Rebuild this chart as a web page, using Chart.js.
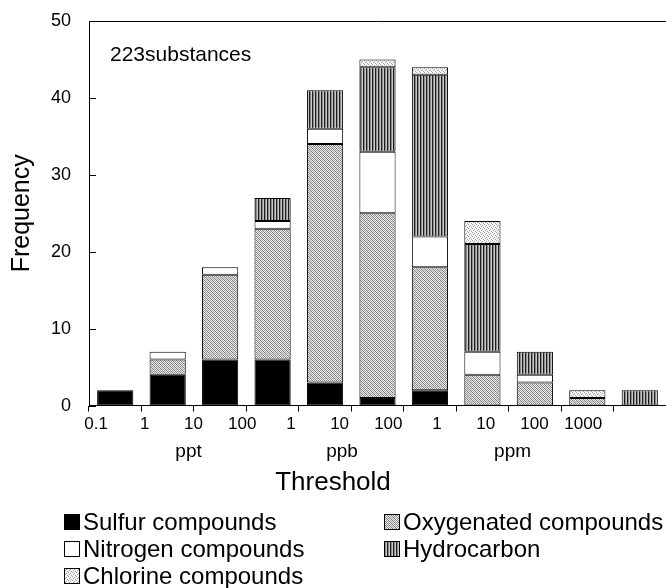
<!DOCTYPE html>
<html>
<head>
<meta charset="utf-8">
<script src="https://cdn.jsdelivr.net/npm/chart.js@4.4.0/dist/chart.umd.min.js"></script>
<style>
  html, body { margin: 0; padding: 0; background: #fff; }
</style>
</head>
<body>
<canvas id="chart" width="666" height="588"></canvas>
<script>
// threshold classes (one bar each) and the labels on the axis
const categories = ['0.1-1 ppt', '1-10 ppt', '10-100 ppt', '100 ppt-1 ppb', '1-10 ppb', '10-100 ppb',
  '100 ppb-1 ppm', '1-10 ppm', '10-100 ppm', '100-1000 ppm', '>1000 ppm'];
const thresholdLabels = ['0.1', '1', '10', '100', '1', '10', '100', '1', '10', '100', '1000'];
const unitLabels = ['ppt', 'ppb', 'ppm'];

// number of substances per class
const sulfur      = [2, 4, 6, 6, 3, 1, 2, 0, 0, 0, 0];
const oxygenated  = [0, 2, 11, 17, 31, 24, 16, 4, 3, 1, 0];
const nitrogen    = [0, 1, 1, 1, 2, 8, 4, 3, 1, 0, 0];
const hydrocarbon = [0, 0, 0, 3, 5, 11, 21, 14, 3, 0, 2];
const chlorine    = [0, 0, 0, 0, 0, 1, 1, 3, 0, 1, 0];

const FONT = '"Liberation Sans", Arial, sans-serif';

// small tiles used as fill patterns
function makePattern(w, h, draw) {
  const c = document.createElement('canvas');
  c.width = w; c.height = h;
  const g = c.getContext('2d');
  draw(g);
  return g.createPattern(c, 'repeat');
}
const oxyFill = makePattern(4, 4, g => {
  g.fillStyle = '#e8e8e8'; g.fillRect(0, 0, 4, 4);
  for (let y = 0; y < 4; y++) for (let x = 0; x < 4; x++) {
    if ((x + y) % 2 === 0) {
      g.fillStyle = (x - y + 4) % 4 === 0 ? '#7c7c7c' : '#a4a4a4';
      g.fillRect(x, y, 1, 1);
    }
  }
});
const hydroFill = makePattern(3, 1, g => {
  g.fillStyle = '#1e1e1e'; g.fillRect(0, 0, 1, 1);
  g.fillStyle = '#8c8c8c'; g.fillRect(1, 0, 1, 1);
  g.fillStyle = '#c8c8c8'; g.fillRect(2, 0, 1, 1);
});
const chloroFill = makePattern(4, 4, g => {
  g.fillStyle = '#f6f6f6'; g.fillRect(0, 0, 4, 4);
  g.fillStyle = '#a0a0a0';
  g.fillRect(0, 0, 1, 1); g.fillRect(2, 1, 1, 1); g.fillRect(1, 2, 1, 1); g.fillRect(3, 3, 1, 1);
});

const noZero = arr => arr.map(v => (v === 0 ? null : v));

function ds(label, values, fill) {
  return {
    label: label,
    data: noZero(values),
    backgroundColor: fill,
    borderColor: '#000',
    borderWidth: 1,
    borderSkipped: false,
    barPercentage: 0.69,
    categoryPercentage: 1
  };
}

// legend in two columns, frame line, inward y ticks, note text
const extras = {
  id: 'extras',
  afterDraw(chart) {
    const ctx = chart.ctx;
    const area = chart.chartArea;
    const y = chart.scales.y;
    ctx.save();
    ctx.strokeStyle = '#000';
    ctx.lineWidth = 1;
    ctx.beginPath();
    ctx.moveTo(area.left, Math.round(area.top) + 0.5);
    ctx.lineTo(area.right, Math.round(area.top) + 0.5);
    y.ticks.forEach(t => {
      const py = Math.round(y.getPixelForValue(t.value)) + 0.5;
      ctx.moveTo(area.left, py);
      ctx.lineTo(area.left + 7, py);
    });
    ctx.stroke();

    ctx.fillStyle = '#000';
    ctx.font = '21px ' + FONT;
    ctx.textBaseline = 'middle';
    ctx.fillText('223substances', area.left + 21, area.top + 34);

    ctx.font = '24px ' + FONT;
    chart.data.datasets.forEach((d, i) => {
      const x = i % 2 === 0 ? 64 : 384;
      const cy = 522 + Math.floor(i / 2) * 27;
      ctx.fillStyle = d.backgroundColor;
      ctx.fillRect(x, cy - 8, 16, 16);
      ctx.strokeRect(x + 0.5, cy - 7.5, 15, 15);
      ctx.fillStyle = '#000';
      ctx.fillText(d.label, x + 19, cy + 1);
    });
    ctx.restore();
  }
};

new Chart(document.getElementById('chart'), {
  type: 'bar',
  data: {
    labels: categories,
    datasets: [
      ds('Sulfur compounds', sulfur, '#000000'),
      ds('Oxygenated compounds', oxygenated, oxyFill),
      ds('Nitrogen compounds', nitrogen, '#ffffff'),
      ds('Hydrocarbon', hydrocarbon, hydroFill),
      ds('Chlorine compounds', chlorine, chloroFill)
    ]
  },
  options: {
    responsive: false,
    animation: false,
    devicePixelRatio: 1,
    layout: { padding: { top: 21, left: 0, right: 0, bottom: 90 } },
    plugins: {
      legend: { display: false },
      tooltip: { enabled: false },
      title: {
        display: true,
        text: 'Threshold',
        position: 'bottom',
        color: '#000',
        font: { family: FONT, size: 26, weight: 'normal' },
        padding: { top: 2, bottom: 0 }
      }
    },
    scales: {
      x: {
        stacked: true,
        weight: 0,
        grid: { offset: true, drawOnChartArea: false, drawTicks: true, tickLength: 6, color: '#000' },
        border: { display: true, color: '#000', width: 1 },
        ticks: { display: false }
      },
      xt: {
        type: 'linear',
        position: 'bottom',
        weight: 1,
        offset: false,
        min: -0.144,
        max: 11.70,
        bounds: 'data',
        grid: { display: false, drawTicks: false, offset: false },
        border: { display: false },
        afterBuildTicks: s => { s.ticks = thresholdLabels.map((_, i) => ({ value: i })); },
        ticks: {
          autoSkip: false, maxRotation: 0, padding: 3, color: '#000',
          font: { family: FONT, size: 17 },
          callback: (v, i) => thresholdLabels[i]
        }
      },
      xu: {
        type: 'linear',
        position: 'bottom',
        weight: 2,
        offset: false,
        min: -0.144,
        max: 11.70,
        bounds: 'data',
        grid: { display: false, drawTicks: false, offset: false },
        border: { display: false },
        afterBuildTicks: s => { s.ticks = [1.9, 5.05, 8.55].map(v => ({ value: v })); },
        ticks: {
          autoSkip: false, maxRotation: 0, padding: 2, color: '#000',
          font: { family: FONT, size: 19 },
          callback: (v, i) => unitLabels[i]
        }
      },
      y: {
        stacked: true,
        min: 0,
        max: 50,
        grid: { display: false, drawTicks: false },
        border: { display: true, color: '#000', width: 1 },
        ticks: { stepSize: 10, padding: 18, color: '#000', font: { family: FONT, size: 18 } },
        title: {
          display: true,
          text: 'Frequency',
          color: '#000',
          font: { family: FONT, size: 25, weight: 'normal' },
          padding: { top: 7, bottom: 0 }
        },
        afterFit: s => {
          s.width = 89;
          s.paddingTop = 0;
          s.paddingBottom = 0;
        }
      }
    }
  },
  plugins: [extras]
});
</script>
</body>
</html>
